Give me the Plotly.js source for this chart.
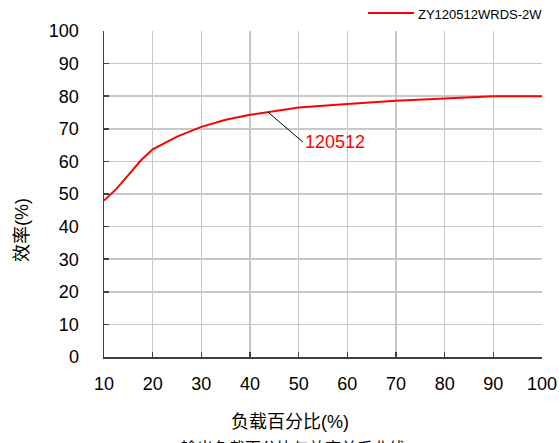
<!DOCTYPE html>
<html>
<head>
<meta charset="utf-8">
<script src="https://cdn.plot.ly/plotly-3.0.1.min.js"></script>
<style>html,body{margin:0;padding:0;background:#fff;}#chart{width:560px;height:443px;}</style>
</head>
<body>
<div id="chart"></div>
<script>
// Data
const loadPercent = [10, 12.5, 15, 17.5, 20, 25, 30, 35, 40, 45, 50, 60, 70, 80, 90, 100];
const efficiency = [48, 51.5, 55.8, 60.2, 63.7, 67.6, 70.6, 72.8, 74.3, 75.3, 76.5, 77.6, 78.6, 79.3, 80, 80];
const seriesName = 'ZY120512WRDS-2W';
const calloutLabel = '120512';
const calloutPoint = [43.7, 75.1];
const xTicks = [10, 20, 30, 40, 50, 60, 70, 80, 90, 100];
const yTicks = [0, 10, 20, 30, 40, 50, 60, 70, 80, 90, 100];
const xTitle = '负载百分比(%)';
const yTitle = '效率(%)';
const bottomCaption = '输出负载百分比与效率关系曲线';

const fontFamily = '"Liberation Sans", Arial, "Noto Sans CJK SC", sans-serif';
const cjkFamily = '"Liberation Sans", Arial, "Noto Sans CJK SC", sans-serif';
const W = 560, H = 443;
const M = {l: 104, r: 18, t: 31, b: 86};
const pw = W - M.l - M.r, ph = H - M.t - M.b;
const px = x => (x - M.l) / pw;          // pixel -> paper x
const py = y => (H - M.b - y) / ph;      // pixel -> paper y

const trace = {
  x: loadPercent, y: efficiency, type: 'scatter', mode: 'lines',
  name: seriesName, showlegend: false,
  line: {color: '#ff0000', width: 2}
};

const axisCommon = {
  showline: true, linecolor: '#404040', linewidth: 1.5,
  showgrid: true, gridcolor: '#c8c8c8', gridwidth: 1.5,
  ticks: 'inside', ticklen: 5, tickcolor: '#404040', tickwidth: 1.5,
  tickfont: {family: fontFamily, size: 18, color: '#000'},
  zeroline: false, mirror: false, automargin: false
};

const layout = {
  width: W, height: H,
  margin: {l: M.l, r: M.r, t: M.t, b: M.b, autoexpand: false},
  paper_bgcolor: '#fff', plot_bgcolor: '#fff',
  showlegend: false,
  xaxis: Object.assign({}, axisCommon, {
    range: [10, 100], tickvals: xTicks, ticktext: xTicks.map(String),
    ticklabelstandoff: 10
  }),
  yaxis: Object.assign({}, axisCommon, {
    range: [0, 100], tickvals: yTicks, ticktext: yTicks.map(String),
    ticklabelstandoff: 20
  }),
  shapes: [
    // legend key line
    {type: 'line', xref: 'paper', yref: 'paper', x0: px(368), x1: px(414), y0: py(13), y1: py(13),
     line: {color: '#ff0000', width: 2}}
  ],
  annotations: [
    {x: calloutPoint[0], y: calloutPoint[1], xref: 'x', yref: 'y',
     text: calloutLabel, showarrow: true, arrowhead: 0, arrowwidth: 1, arrowcolor: '#000',
     ax: 35, ay: 30, xanchor: 'left', yanchor: 'middle',
     font: {family: fontFamily, size: 18, color: '#ff0000'}},
    {x: px(416), y: py(14), xref: 'paper', yref: 'paper', text: seriesName, showarrow: false,
     xanchor: 'left', yanchor: 'middle',
     font: {family: fontFamily, size: 13, color: '#000'}},
    {x: px(290), y: py(422), xref: 'paper', yref: 'paper', text: xTitle, showarrow: false,
     xanchor: 'center', yanchor: 'middle',
     font: {family: cjkFamily, size: 18, color: '#000'}},
    {x: px(22), y: py(230), xref: 'paper', yref: 'paper', text: yTitle, showarrow: false,
     textangle: -90, xanchor: 'center', yanchor: 'middle',
     font: {family: cjkFamily, size: 18, color: '#000'}},
    {x: px(293), y: py(448), xref: 'paper', yref: 'paper', text: bottomCaption, showarrow: false,
     xanchor: 'center', yanchor: 'middle',
     font: {family: cjkFamily, size: 16, color: '#000'}}
  ]
};

Plotly.newPlot('chart', [trace], layout, {displayModeBar: false, staticPlot: true});
</script>
</body>
</html>
